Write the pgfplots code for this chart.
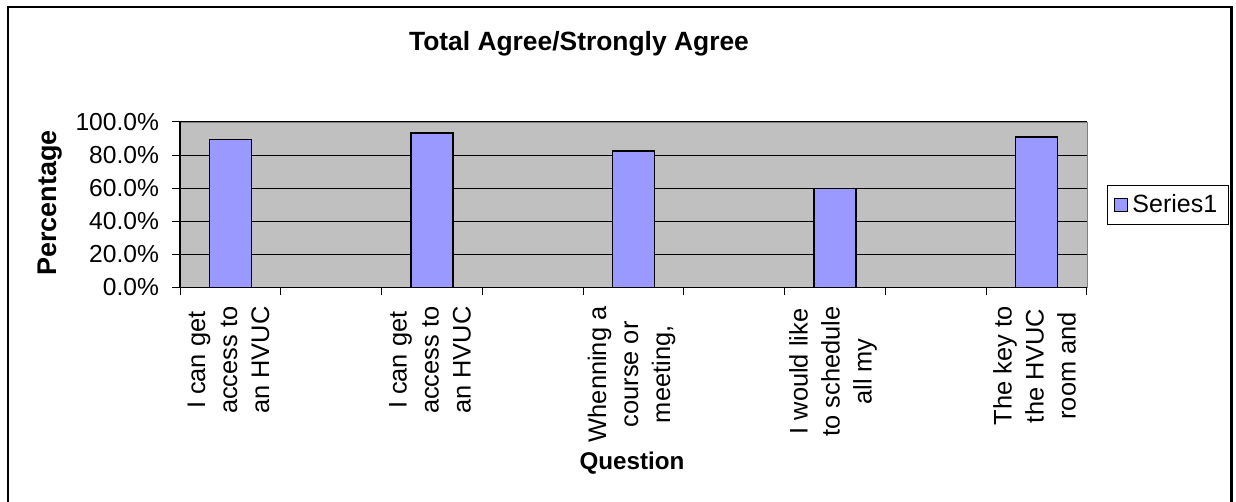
\documentclass[border=0pt]{standalone}
\usepackage{pgfplots}
\pgfplotsset{compat=1.18}
\usepackage{fontspec}
\setmainfont{Liberation Sans}
\definecolor{barfill}{RGB}{153,153,255}
\definecolor{plotbg}{RGB}{192,192,192}
\definecolor{plotborder}{RGB}{128,128,128}
\begin{document}
\begin{tikzpicture}[x=1pt,y=1pt]
\useasboundingbox (0,0) rectangle (618,251);
\begin{axis}[
  at={(90pt,107.25pt)}, anchor=south west,
  scale only axis, width=453.5pt, height=82.75pt,
  xmin=0.5, xmax=9.5, ymin=0, ymax=100,
  axis background/.style={fill=plotbg},
  axis line style={draw=plotborder},
  ybar, bar width=21pt,
  ytick={0,20,40,60,80,100},
  yticklabels={0.0\%,20.0\%,40.0\%,60.0\%,80.0\%,100.0\%},
  yticklabel style={font=\fontsize{12.3}{14}\selectfont, xshift=-3pt},
  ymajorgrids, grid style={black, line width=0.5pt},
  tick align=outside, major tick length=4pt,
  tick style={black, line width=0.5pt},
  xtick pos=left, ytick pos=left,
  xtick={0.5,1.5,...,9.5}, xticklabels={},
  extra x ticks={1,3,5,7,9},
  extra x tick labels={{I can get\\access to\\an HVUC},{I can get\\access to\\an HVUC},{Whenning a\\course or\\meeting,},{I would like\\to schedule\\all my},{The key to\\the HVUC\\room and}},
  extra x tick style={major tick length=0pt, grid=none,
    tick label style={rotate=90, anchor=east, align=center, xshift=-6pt, yshift=1pt, font=\fontsize{12.7}{16}\selectfont}},
  legend style={at={(1.022,0.619)}, anchor=north west, draw=black, line width=0.5pt,
    font=\fontsize{12.5}{14}\selectfont, inner xsep=3.5pt, inner ysep=2.5pt, legend cell align=left},
  legend image code/.code={\draw[#1, line width=0.5pt] (0pt,-3.2pt) rectangle (6.5pt,3.2pt);},
  clip=false,
]
\addplot[fill=barfill, draw=black, line width=0.8pt] coordinates {(1,89.5) (3,93.2) (5,82.3) (7,59.7) (9,90.8)};
\addlegendentry{Series1}
\draw[black, line width=0.6pt] (rel axis cs:0,0) -- (rel axis cs:1,0);
\draw[black, line width=0.6pt] (rel axis cs:0,0) -- (rel axis cs:0,1);
\end{axis}
\node[font=\bfseries\fontsize{13.2}{15}\selectfont] at (289.5,229) {Total Agree/Strongly Agree};
\node[font=\bfseries\fontsize{12.1}{14}\selectfont] at (316,19.5) {Question};
\node[font=\bfseries\fontsize{13.5}{15}\selectfont, rotate=90] at (25,149.5) {Percentage};
\draw[black, line width=1.1pt] (4,-5) -- (4,247.5) -- (615.7,247.5) -- (615.7,-5);
\end{tikzpicture}
\end{document}
